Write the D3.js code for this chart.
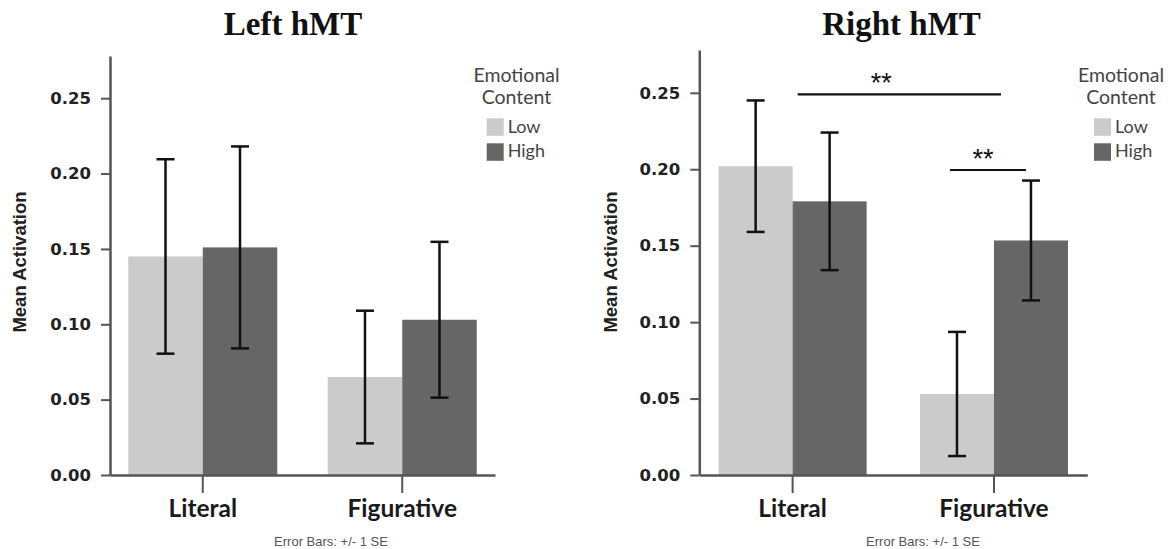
<!DOCTYPE html>
<html>
<head>
<meta charset="utf-8">
<script src="https://cdn.jsdelivr.net/npm/d3@7"></script>
<style>
  html, body { margin: 0; padding: 0; background: #fff; }
  svg { display: block; }
</style>
</head>
<body>
<svg id="chart" width="1171" height="549"></svg>
<script>
// ---- data ----
const categories = ["Literal", "Figurative"];
const groups = ["Low", "High"];
const yTicks = [0.00, 0.05, 0.10, 0.15, 0.20, 0.25];
const legendTitle = ["Emotional", "Content"];
const footnote = "Error Bars: +/- 1 SE";

const leftTitle = "Left hMT";
const leftMeans = { Literal: { Low: 0.145, High: 0.151 }, Figurative: { Low: 0.065, High: 0.103 } };
const leftSE    = { Literal: { Low: 0.0645, High: 0.067 }, Figurative: { Low: 0.044, High: 0.0517 } };

const rightTitle = "Right hMT";
const rightMeans = { Literal: { Low: 0.202, High: 0.179 }, Figurative: { Low: 0.053, High: 0.1534 } };
const rightSE    = { Literal: { Low: 0.043, High: 0.045 }, Figurative: { Low: 0.0406, High: 0.0392 } };

// significance markers (right panel): between category centres, and between groups within Figurative
const rightSig = [
  { type: "category", from: "Literal", to: "Figurative", y: 0.249, label: "**" },
  { type: "group", cat: "Figurative", from: "Low", to: "High", y: 0.1995, label: "**" }
];

// ---- layout ----
const colors = { Low: "#cbcbcb", High: "#666666" };
const svg = d3.select("#chart");

const panels = [
  { title: leftTitle, means: leftMeans, se: leftSE, sig: [],
    titleX: 293, xr: [110, 495], yr: [475, 56], ylabX: 20,
    legCx: 516.5, legSwX: 486.7, footX: 331 },
  { title: rightTitle, means: rightMeans, se: rightSE, sig: rightSig,
    titleX: 901.5, xr: [699.3, 1087.3], yr: [475, 50], ylabX: 610.5,
    legCx: 1121, legSwX: 1094, footX: 923 }
];

panels.forEach((p, pi) => {
  const g = svg.append("g");
  const y = d3.scaleLinear().domain([0, 0.278]).range(p.yr);
  const x0 = d3.scaleBand().domain(categories).range(p.xr)
    .paddingInner(pi === 0 ? 0.253 : 0.265).paddingOuter(pi === 0 ? 0.0915 : 0.096);
  const x1 = d3.scaleBand().domain(groups).range([0, x0.bandwidth()]).padding(0);

  // title
  g.append("text").attr("x", p.titleX).attr("y", 35).attr("text-anchor", "middle")
    .style("font-family", "'Liberation Serif', 'Times New Roman', serif")
    .style("font-weight", "bold").style("font-size", "33px").attr("fill", "#111")
    .text(p.title);

  // bars
  const rows = [];
  categories.forEach(c => groups.forEach(k => rows.push({ c, k, v: p.means[c][k], se: p.se[c][k] })));
  g.selectAll("rect.bar").data(rows).join("rect").attr("class", "bar")
    .attr("x", d => x0(d.c) + x1(d.k))
    .attr("width", x1.bandwidth())
    .attr("y", d => y(d.v))
    .attr("height", d => y(0) - y(d.v))
    .attr("fill", d => colors[d.k]);

  // error bars
  const eb = g.selectAll("g.err").data(rows).join("g").attr("class", "err")
    .attr("transform", d => `translate(${x0(d.c) + x1(d.k) + x1.bandwidth() / 2},0)`);
  eb.append("line").attr("x1", 0).attr("x2", 0)
    .attr("y1", d => y(d.v + d.se)).attr("y2", d => y(d.v - d.se))
    .attr("stroke", "#111").attr("stroke-width", 2.5);
  eb.append("line").attr("x1", -9).attr("x2", 9)
    .attr("y1", d => y(d.v + d.se)).attr("y2", d => y(d.v + d.se))
    .attr("stroke", "#111").attr("stroke-width", 2.5);
  eb.append("line").attr("x1", -9).attr("x2", 9)
    .attr("y1", d => y(d.v - d.se)).attr("y2", d => y(d.v - d.se))
    .attr("stroke", "#111").attr("stroke-width", 2.5);

  // y axis
  const ya = g.append("g").attr("transform", `translate(${p.xr[0]},0)`)
    .call(d3.axisLeft(y).tickValues(yTicks).tickFormat(d3.format(".2f")).tickSize(9).tickSizeOuter(0).tickPadding(10));
  ya.select(".domain").attr("stroke", "#555").attr("stroke-width", 2.5);
  ya.selectAll(".tick line").attr("stroke", "#555").attr("stroke-width", 2);
  ya.selectAll(".tick text")
    .style("font-family", "'DejaVu Sans', sans-serif").style("font-weight", "bold")
    .style("font-size", "16.5px").attr("fill", "#222");

  // x axis
  const xa = g.append("g").attr("transform", `translate(0,${y(0)})`)
    .call(d3.axisBottom(x0).tickSize(18).tickSizeOuter(0).tickPadding(8));
  xa.select(".domain").attr("stroke", "#555").attr("stroke-width", 2.5);
  xa.selectAll(".tick line").attr("stroke", "#555").attr("stroke-width", 2);
  xa.selectAll(".tick text")
    .attr("y", 41.5).attr("dy", 0)
    .style("font-family", "Lato, 'Open Sans', sans-serif").style("font-weight", "bold")
    .style("font-size", "24.5px").attr("fill", "#1a1a1a");

  // y label
  g.append("text").attr("transform", `translate(${p.ylabX + 6},262) rotate(-90)`)
    .attr("text-anchor", "middle")
    .style("font-family", "'Liberation Sans', Arial, sans-serif").style("font-weight", "bold")
    .style("font-size", "18.5px").attr("fill", "#222")
    .text("Mean Activation");

  // legend
  const lg = g.append("g");
  legendTitle.forEach((t, i) => {
    lg.append("text").attr("x", p.legCx).attr("y", 82 + i * 21.5).attr("text-anchor", "middle")
      .style("font-family", "Lato, sans-serif").style("font-size", "19.5px").attr("fill", "#444")
      .text(t);
  });
  groups.forEach((k, i) => {
    lg.append("rect").attr("x", p.legSwX).attr("y", 118.3 + i * 25).attr("width", 17).attr("height", 17.5)
      .attr("fill", colors[k]);
    lg.append("text").attr("x", p.legSwX + 21).attr("y", 133 + i * 24)
      .style("font-family", "Lato, sans-serif").style("font-size", "18px").attr("fill", "#444")
      .text(k);
  });

  // significance markers
  const labelShift = [-18, -5];
  p.sig.forEach((s, i) => {
    let xa1, xa2;
    if (s.type === "category") {
      xa1 = x0(s.from) + x0.bandwidth() / 2 + 5;
      xa2 = x0(s.to) + x0.bandwidth() / 2 + 7;
    } else {
      xa1 = x0(s.cat) + x1(s.from) + x1.bandwidth() / 2 - 7;
      xa2 = x0(s.cat) + x1(s.to) + x1.bandwidth() / 2 - 5;
    }
    g.append("line").attr("x1", xa1).attr("x2", xa2).attr("y1", y(s.y)).attr("y2", y(s.y))
      .attr("stroke", "#111").attr("stroke-width", 2.2);
    g.append("text").attr("x", (xa1 + xa2) / 2 + labelShift[i]).attr("y", y(s.y) - 2)
      .attr("text-anchor", "middle")
      .style("font-family", "'Liberation Sans', Arial, sans-serif").style("font-size", "27px").attr("fill", "#111")
      .text(s.label);
  });

  // footnote
  g.append("text").attr("x", p.footX).attr("y", 546).attr("text-anchor", "middle")
    .style("font-family", "'Liberation Sans', Arial, sans-serif").style("font-size", "13px")
    .attr("fill", "#555")
    .text(footnote);
});
</script>
</body>
</html>
